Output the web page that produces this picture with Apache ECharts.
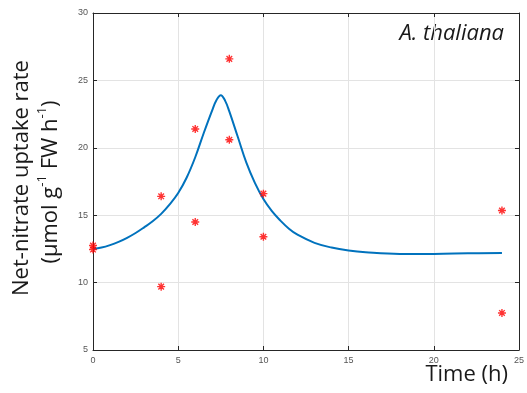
<!DOCTYPE html>
<html>
<head>
<meta charset="utf-8">
<script src="https://cdn.jsdelivr.net/npm/echarts@6/dist/echarts.min.js"></script>
<style>
  html, body { margin: 0; padding: 0; background: #fff; }
  #chart { width: 527px; height: 393px; }
</style>
</head>
<body>
<div id="chart"></div>
<script>
// measured points (red asterisks)
const measuredTime = [0, 0, 4, 4, 6, 6, 8, 8, 10, 10, 24, 24];
const measuredRate = [12.75, 12.45, 16.4, 9.7, 21.4, 14.5, 26.6, 20.6, 16.6, 13.4, 15.35, 7.75];

// fitted model curve (blue line)
const curveTime = [0, 0.5, 1, 1.5, 2, 2.5, 3, 3.5, 4, 4.5, 5, 5.5, 6, 6.5, 7, 7.25, 7.5, 7.75, 8, 8.5, 9, 9.5, 10, 10.5, 11, 11.5, 12, 13, 14, 15, 16, 18, 20, 22, 24];
const curveRate = [12.5, 12.6, 12.78, 13.02, 13.32, 13.68, 14.1, 14.55, 15.1, 15.8, 16.65, 17.8, 19.3, 21.1, 22.8, 23.55, 23.9, 23.5, 22.7, 20.8, 18.9, 17.4, 16.2, 15.3, 14.6, 14.0, 13.55, 12.95, 12.6, 12.38, 12.25, 12.13, 12.13, 12.17, 12.2];

const xTicks = { min: 0, max: 25, interval: 5 };
const yTicks = { min: 5, max: 30, interval: 5 };

const chart = echarts.init(document.getElementById("chart"), null, { renderer: "canvas" });

const axisLineStyle = { color: "#262626", width: 1 };
const tickStyle = { show: true, inside: true, length: 4, lineStyle: { color: "#262626" } };
const labelStyle = { fontSize: 9, color: "#555", fontFamily: "Liberation Sans" };

// MATLAB style '*' marker drawn as strokes
const asterisk = "path://M0,-10L0,10M-10,0L10,0M-7,-7L7,7M-7,7L7,-7";

const option = {
  animation: false,
  grid: { left: 93, right: 6, top: 13, bottom: 43 },
  xAxis: [
    {
      type: "value",
      min: xTicks.min, max: xTicks.max, interval: xTicks.interval,
      axisLine: { show: true, onZero: false, lineStyle: axisLineStyle },
      axisTick: tickStyle,
      axisLabel: Object.assign({ margin: 6 }, labelStyle),
      splitLine: { show: true, lineStyle: { color: "#e3e3e3" } },
    },
    {
      type: "value", position: "top",
      min: xTicks.min, max: xTicks.max, interval: xTicks.interval,
      axisLine: { show: true, onZero: false, lineStyle: axisLineStyle },
      axisTick: tickStyle,
      axisLabel: { show: false },
      splitLine: { show: false },
    },
  ],
  yAxis: [
    {
      type: "value",
      min: yTicks.min, max: yTicks.max, interval: yTicks.interval,
      axisLine: { show: true, onZero: false, lineStyle: axisLineStyle },
      axisTick: tickStyle,
      axisLabel: Object.assign({ margin: 5 }, labelStyle),
      splitLine: { show: true, lineStyle: { color: "#e3e3e3" } },
    },
    {
      type: "value", position: "right",
      min: yTicks.min, max: yTicks.max, interval: yTicks.interval,
      axisLine: { show: true, onZero: false, lineStyle: axisLineStyle },
      axisTick: tickStyle,
      axisLabel: { show: false },
      splitLine: { show: false },
    },
  ],
  series: [
    {
      type: "line",
      data: curveTime.map((t, i) => [t, curveRate[i]]),
      smooth: 0.4,
      showSymbol: false,
      symbol: "none",
      lineStyle: { color: "#0072BD", width: 2 },
      z: 2,
    },
    {
      type: "scatter",
      data: measuredTime.map((t, i) => [t, measuredRate[i]]),
      symbol: asterisk,
      symbolSize: 8,
      clip: false,
      itemStyle: { color: "#ff0000", borderColor: "#ff0000", borderWidth: 1.4 },
      z: 3,
    },
  ],
  graphic: [
    {
      type: "text", x: 22, y: 178, rotation: Math.PI / 2,
      style: {
        text: "Net-nitrate uptake rate",
        font: "22px 'Open Sans'", fill: "#1a1a1a",
        align: "center", verticalAlign: "middle",
      },
    },
    {
      type: "text", x: 51, y: 182, rotation: Math.PI / 2,
      style: {
        text: "(µmol g{sup|-1} FW h{sup|-1})",
        font: "22px 'Open Sans'", fill: "#1a1a1a",
        align: "center", verticalAlign: "middle",
        rich: {
          sup: { fontSize: 13, fontFamily: "Open Sans", fill: "#1a1a1a", verticalAlign: "top", lineHeight: 30 },
        },
      },
    },
    {
      type: "text", right: 23, top: 23,
      style: {
        text: "A. thaliana",
        font: "italic 22px 'Open Sans'", fill: "#1a1a1a",
      },
    },
    {
      type: "text", right: 19, top: 364,
      style: {
        text: "Time (h)",
        font: "22px 'Open Sans'", fill: "#1a1a1a",
      },
    },
  ],
};

chart.setOption(option);
</script>
</body>
</html>
